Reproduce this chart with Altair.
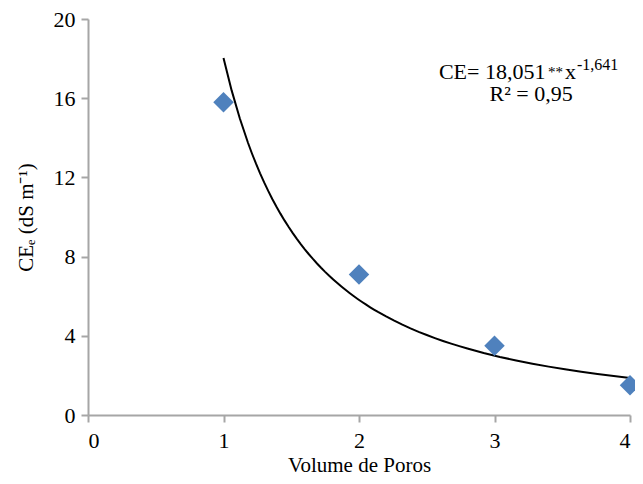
import altair as alt
import pandas as pd

volume = [1, 2, 3, 4]
ce = [15.8, 7.1, 3.5, 1.5]

x_ticks = [0, 1, 2, 3, 4]
y_ticks = [0, 4, 8, 12, 16, 20]

df = pd.DataFrame({"x": volume, "y": ce})

xs = alt.Scale(domain=[0, 4], nice=False, zero=False)
ys = alt.Scale(domain=[0, 20], nice=False)

x_axis = alt.Axis(values=x_ticks, title="Volume de Poros", grid=False, format="d",
                  tickSize=7, labelPadding=8, titleFontSize=21,
                  titleBaseline="alphabetic", titleY=56)
y_axis = alt.Axis(values=y_ticks, title="CEₑ (dS m⁻¹)", grid=False, format="d",
                  tickSize=7, labelPadding=6, titlePadding=17, titleFontSize=21)

base = alt.Chart(df)

curve = base.transform_regression("x", "y", method="pow", extent=[1, 4]).mark_line(
    color="black", strokeWidth=2
).encode(
    x=alt.X("x:Q", scale=xs, axis=x_axis),
    y=alt.Y("y:Q", scale=ys, axis=y_axis),
)

points = base.mark_point(shape="diamond", filled=True, color="#4F81BD", size=420, opacity=1).encode(
    x=alt.X("x:Q", scale=xs),
    y=alt.Y("y:Q", scale=ys),
)

# annotation pieces
ann_df = pd.DataFrame({"x": [2.59], "y": [16.97]})
font = "Liberation Serif"

def piece(text, dx, dy, size):
    return alt.Chart(ann_df).mark_text(
        text=text, align="left", baseline="alphabetic", dx=dx, dy=dy,
        fontSize=size, font=font, color="black"
    ).encode(x=alt.X("x:Q", scale=xs), y=alt.Y("y:Q", scale=ys))

eq1 = piece("CE= 18,051", 0, 0, 22)
eq2 = piece("**", 109, -2, 15)
eq3 = piece("x", 126, 0, 22)
eq4 = piece("-1,641", 138, -9, 16)

r2_df = pd.DataFrame({"x": [3.27], "y": [15.85], "t": ["R² = 0,95"]})
r2 = alt.Chart(r2_df).mark_text(
    align="center", baseline="alphabetic", fontSize=22, font=font, color="black"
).encode(x=alt.X("x:Q", scale=xs), y=alt.Y("y:Q", scale=ys), text="t:N")

chart = alt.layer(curve, points, eq1, eq2, eq3, eq4, r2).properties(
    width=542, height=396,
    autosize=alt.AutoSizeParams(type="none"),
    padding={"left": 80, "top": 11, "right": 5, "bottom": 61},
).configure_view(stroke=None).configure_axis(
    domainColor="#A6A6A6", domainWidth=2, tickColor="#A6A6A6", tickWidth=2,
    labelFont=font, titleFont=font, labelFontSize=22,
    labelColor="black", titleColor="black", titleFontWeight="normal",
)

chart.save("out.html", embed_options={"renderer": "svg", "actions": False})
